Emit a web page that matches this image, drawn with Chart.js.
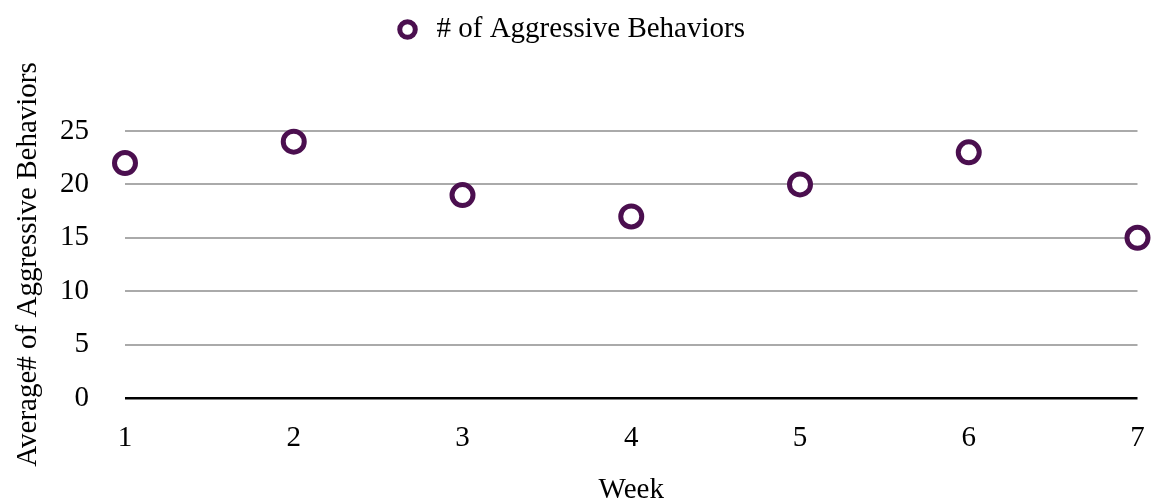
<!DOCTYPE html>
<html>
<head>
<meta charset="utf-8">
<script src="https://cdn.jsdelivr.net/npm/chart.js@4"></script>
<style>
  body { margin: 0; background: #fff; }
  #wrap { width: 1153px; height: 500px; }
</style>
</head>
<body>
<div id="wrap"><canvas id="chart"></canvas></div>
<script>
// dados
const weeks = [1, 2, 3, 4, 5, 6, 7];
const aggressive = [22, 24, 19, 17, 20, 23, 15];
const yTicks = [0, 5, 10, 15, 20, 25];

const seriesLabel = "# of Aggressive Behaviors";
const purple = "#4b0f4f";
const fontFamily = "'Liberation Serif', 'Times New Roman', serif";
const fontSize = 29;

const points = weeks.map((w, i) => ({ x: w, y: aggressive[i] }));

// espaço extra abaixo da legenda
const legendSpacer = {
    id: "legendSpacer",
    beforeInit(chart) {
        const origFit = chart.legend.fit;
        chart.legend.fit = function () {
            origFit.bind(chart.legend)();
            this.height += 77;
        };
    },
};

const ctx = document.getElementById("chart").getContext("2d");
new Chart(ctx, {
    type: "scatter",
    data: {
        datasets: [{
            label: seriesLabel,
            data: points,
            borderColor: purple,
            backgroundColor: "#ffffff",
            borderWidth: 5,
            pointRadius: 10.5,
            pointHoverRadius: 10.5,
            clip: false,
        }],
    },
    plugins: [legendSpacer],
    options: {
        responsive: true,
        maintainAspectRatio: false,
        animation: false,
        layout: { padding: { left: 0, right: 15, top: 5, bottom: 0 } },
        plugins: {
            legend: {
                display: true,
                position: "top",
                labels: {
                    usePointStyle: true,
                    pointStyle: "circle",
                    boxHeight: 11,
                    color: "#000",
                    padding: 10,
                    font: { family: fontFamily, size: fontSize },
                },
            },
            tooltip: { enabled: false },
        },
        scales: {
            x: {
                type: "linear",
                min: 1,
                max: 7,
                afterFit: (axis) => {
                    axis.height = 102;
                    axis.paddingLeft = 0;
                    axis.paddingRight = 0;
                },
                grid: { display: false },
                border: { display: false },
                ticks: {
                    stepSize: 1,
                    color: "#000",
                    padding: 15,
                    font: { family: fontFamily, size: fontSize },
                },
                title: {
                    display: true,
                    text: "Week",
                    color: "#000",
                    padding: { top: 0, bottom: -8 },
                    font: { family: fontFamily, size: fontSize },
                },
            },
            y: {
                min: 0,
                max: 25,
                afterBuildTicks: (axis) => { axis.ticks = yTicks.map(v => ({ value: v })); },
                afterFit: (axis) => { axis.width = 125; },
                grid: {
                    drawTicks: false,
                    color: (c) => (c.tick && c.tick.value === 0 ? "#000000" : "#aaaaaa"),
                    lineWidth: (c) => (c.tick && c.tick.value === 0 ? 2.5 : 2),
                },
                border: { display: false },
                ticks: {
                    color: "#000",
                    padding: 36,
                    font: { family: fontFamily, size: fontSize },
                },
                title: {
                    display: true,
                    text: "Average# of Aggressive Behaviors",
                    color: "#000",
                    padding: { top: 11, bottom: 0 },
                    font: { family: fontFamily, size: fontSize },
                },
            },
        },
    },
});
</script>
</body>
</html>
